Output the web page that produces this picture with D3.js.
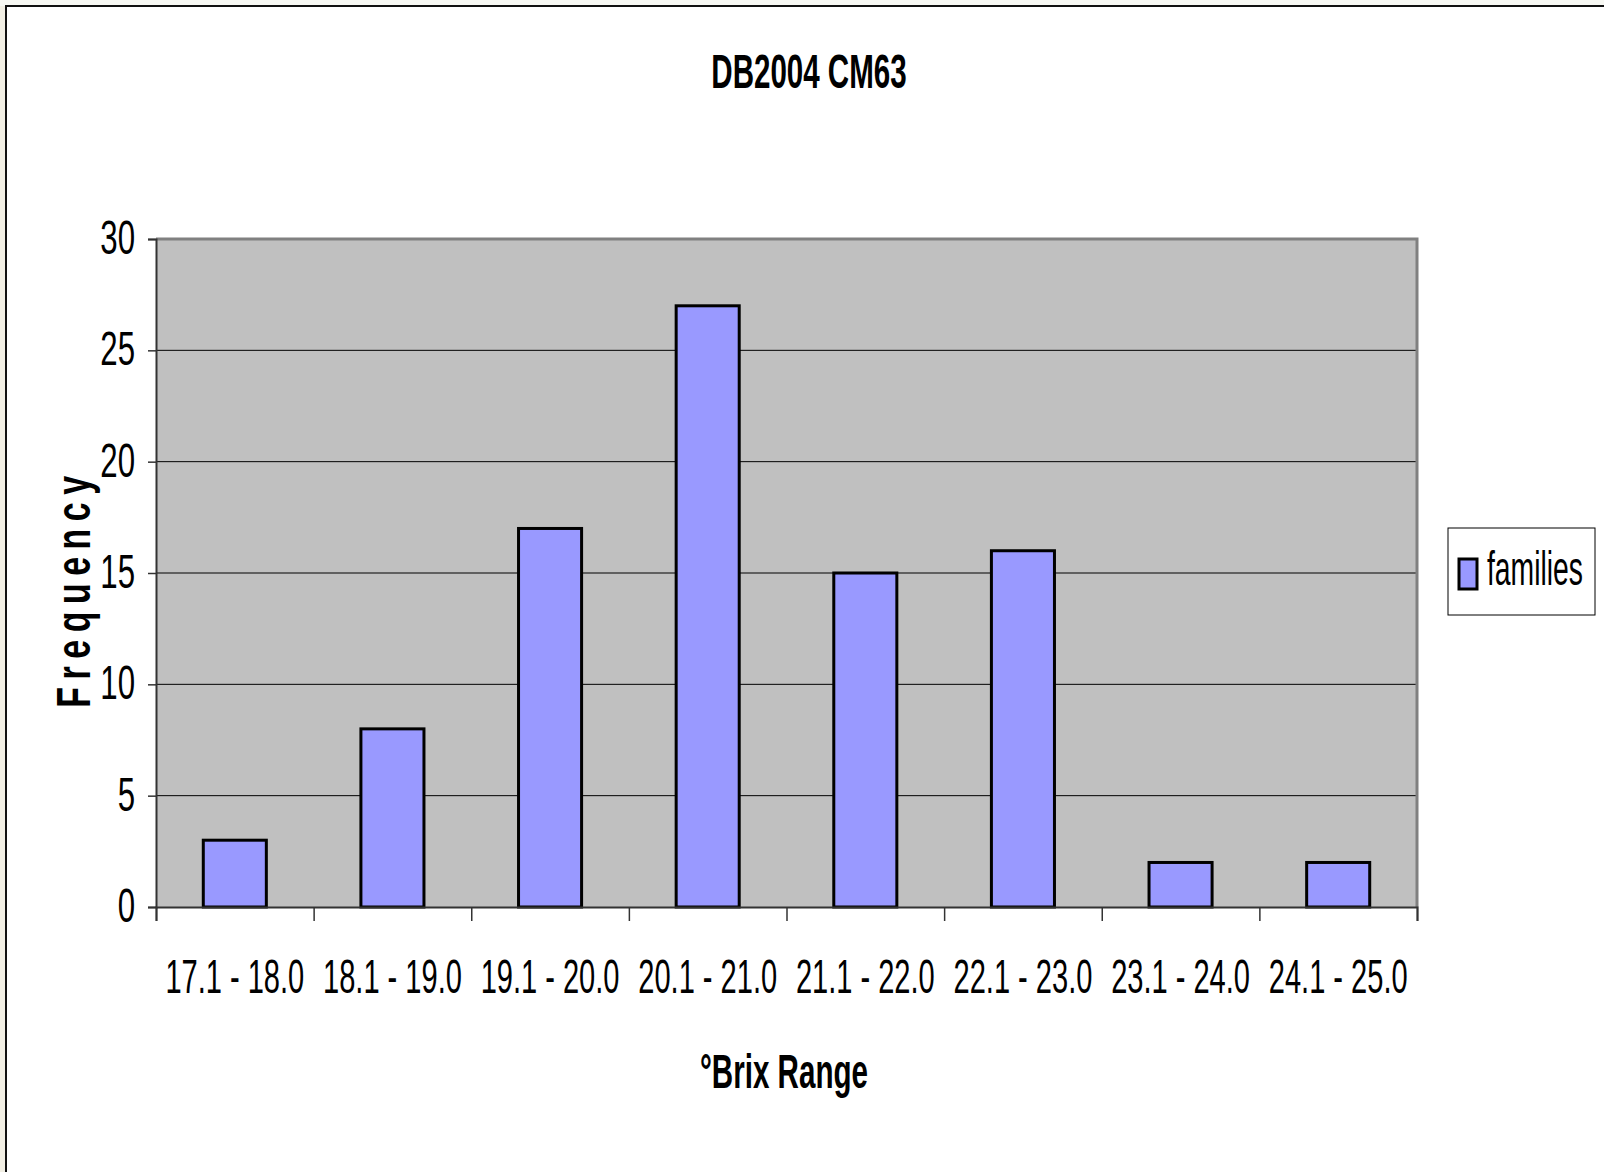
<!DOCTYPE html>
<html>
<head>
<meta charset="utf-8">
<script src="https://cdn.jsdelivr.net/npm/d3@7"></script>
<style>
  body { margin: 0; background: #f2efe4; }
  svg { display: block; font-family: "Liberation Sans", Arial, sans-serif; }
</style>
</head>
<body>
<svg class="chart" width="1604" height="1172"></svg>
<script>
// data
const categories = ["17.1 - 18.0", "18.1 - 19.0", "19.1 - 20.0", "20.1 - 21.0",
                    "21.1 - 22.0", "22.1 - 23.0", "23.1 - 24.0", "24.1 - 25.0"];
const families = [3, 8, 17, 27, 15, 16, 2, 2];
const yTicks = [0, 5, 10, 15, 20, 25, 30];
const chartTitle = "DB2004 CM63";
const xTitle = "°Brix Range";
const yTitle = "Frequency";
const seriesName = "families";

const plot = { left: 156, top: 239, right: 1417, bottom: 907 };
const width = plot.right - plot.left;
const height = plot.bottom - plot.top;

const svg = d3.select(".chart");

// squeeze text horizontally, the original font is narrow
function squeeze(sel, k) {
  sel.each(function() {
    const w = this.getComputedTextLength();
    d3.select(this).attr("textLength", w * k).attr("lengthAdjust", "spacingAndGlyphs");
  });
}

// slide-ish background + chart frame
svg.append("rect").attr("x", 0).attr("y", 0).attr("width", 1604).attr("height", 6).attr("fill", "#f7f8f3");
svg.append("rect")
  .attr("x", 6).attr("y", 6).attr("width", 1620).attr("height", 1200)
  .attr("fill", "#fff").attr("stroke", "#111").attr("stroke-width", 2);

const chart = svg.append("g").attr("transform", `translate(${plot.left}, ${plot.top})`);

const yScale = d3.scaleLinear().domain([0, 30]).range([height, 0]);
const xScale = d3.scaleBand().domain(categories).range([0, width]).paddingInner(0.6).paddingOuter(0.3);
const xEdges = d3.scaleLinear().domain([0, categories.length]).range([0, width]);

// plot area
chart.append("rect")
  .attr("width", width).attr("height", height)
  .attr("fill", "#c0c0c0");

// gridlines
chart.append("g")
  .selectAll("line")
  .data(yTicks.filter(t => t > 0 && t < 30))
  .enter()
  .append("line")
  .attr("x1", 0).attr("x2", width)
  .attr("y1", d => yScale(d)).attr("y2", d => yScale(d))
  .attr("stroke", "#000").attr("stroke-width", 1);

// gray top and right border
chart.append("path")
  .attr("d", `M0,0 H${width} V${height}`)
  .attr("fill", "none").attr("stroke", "#808080").attr("stroke-width", 3);

// bars
chart.selectAll(".bar")
  .data(families)
  .enter()
  .append("rect")
  .attr("class", "bar")
  .attr("x", (d, i) => xScale(categories[i]))
  .attr("y", d => yScale(d))
  .attr("width", xScale.bandwidth())
  .attr("height", d => height - yScale(d))
  .attr("fill", "#9999ff")
  .attr("stroke", "#000")
  .attr("stroke-width", 3);

// y axis
const yAxis = chart.append("g")
  .call(d3.axisLeft(yScale).tickValues(yTicks).tickSize(8).tickPadding(13));
yAxis.select(".domain").attr("stroke", "#333").attr("stroke-width", 2);
yAxis.selectAll(".tick line").attr("stroke", "#333").attr("stroke-width", 1.5);
yAxis.selectAll("text")
  .attr("font-family", "Liberation Sans, Arial, sans-serif")
  .attr("font-size", 48).attr("fill", "#000").attr("dy", "0.3em")
  .call(squeeze, 0.65);

// x axis: tick marks on the category edges
const xEdgeAxis = chart.append("g")
  .attr("transform", `translate(0, ${height})`)
  .call(d3.axisBottom(xEdges).ticks(categories.length).tickSize(14).tickFormat(""));
xEdgeAxis.select(".domain").attr("stroke", "#333").attr("stroke-width", 2);
xEdgeAxis.selectAll(".tick line").attr("stroke", "#333").attr("stroke-width", 1.5);

// x axis labels
const xAxis = chart.append("g")
  .attr("transform", `translate(0, ${height})`)
  .call(d3.axisBottom(xScale).tickSize(0).tickPadding(52));
xAxis.select(".domain").remove();
xAxis.selectAll("text")
  .attr("font-family", "Liberation Sans, Arial, sans-serif")
  .attr("font-size", 48).attr("fill", "#000")
  .call(squeeze, 0.605);

// titles
svg.append("text")
  .attr("x", 809).attr("y", 88)
  .attr("text-anchor", "middle")
  .attr("font-size", 48).attr("font-weight", "bold")
  .text(chartTitle)
  .call(squeeze, 0.615);

svg.append("text")
  .attr("x", 784).attr("y", 1088)
  .attr("text-anchor", "middle")
  .attr("font-size", 48).attr("font-weight", "bold")
  .text(xTitle)
  .call(squeeze, 0.616);

// spaced-out axis title, as in the original
svg.append("text")
  .attr("transform", "translate(90, 588) rotate(-90)")
  .attr("text-anchor", "middle")
  .attr("font-size", 49).attr("font-weight", "bold")
  .attr("letter-spacing", 11)
  .text(yTitle)
  .call(squeeze, 0.69);

// legend
const legend = svg.append("g").attr("transform", "translate(1448, 528)");
legend.append("rect")
  .attr("width", 147).attr("height", 87)
  .attr("fill", "#fff").attr("stroke", "#000").attr("stroke-width", 1);
legend.append("rect")
  .attr("x", 11).attr("y", 31).attr("width", 18).attr("height", 30)
  .attr("fill", "#9999ff").attr("stroke", "#000").attr("stroke-width", 3);
legend.append("text")
  .attr("x", 39).attr("y", 57)
  .attr("font-size", 48)
  .text(seriesName)
  .call(squeeze, 0.59);
</script>
</body>
</html>
